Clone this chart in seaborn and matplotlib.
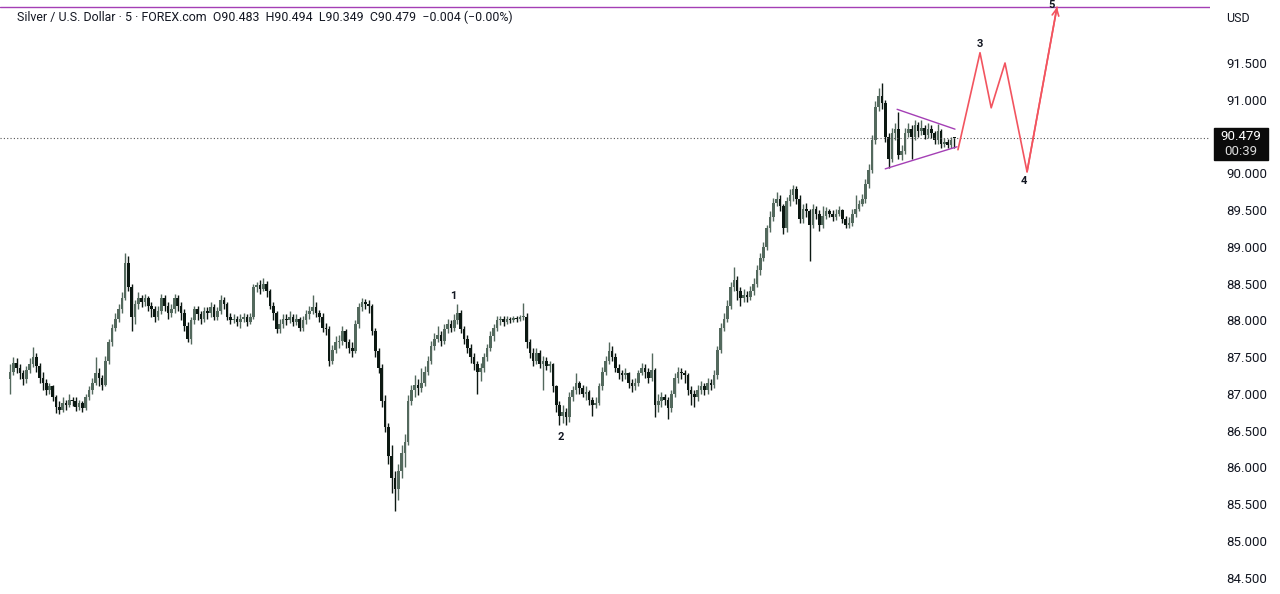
import numpy as np
import pandas as pd
import matplotlib
matplotlib.use('Agg')
import matplotlib.pyplot as plt
import seaborn as sns
from matplotlib.patches import Rectangle

# 5-minute XAG/USD candles (open = previous close)
first_open = 87.20
last_open = 90.483
closes = [
    87.30, 87.42, 87.35, 87.28, 87.20, 87.32, 87.40, 87.50, 87.38, 87.22,
    87.15, 87.05, 87.10, 86.95, 86.82, 86.78, 86.88, 86.85, 86.92, 86.90,
    86.82, 86.88, 86.80, 86.95, 87.05, 87.15, 87.28, 87.22, 87.12, 87.45,
    87.70, 87.90, 88.02, 88.15, 88.30, 88.78, 88.45, 88.05, 88.22, 88.30,
    88.25, 88.30, 88.20, 88.15, 88.05, 88.12, 88.30, 88.20, 88.10, 88.15,
    88.30, 88.20, 88.10, 87.92, 87.75, 88.00, 88.15, 88.08, 88.02, 88.12,
    88.10, 88.18, 88.05, 88.12, 88.28, 88.22, 88.05, 88.00, 88.02, 87.98,
    88.02, 88.05, 87.98, 88.05, 88.45, 88.48, 88.42, 88.50, 88.40, 88.20,
    88.10, 87.88, 87.95, 88.02, 88.00, 88.05, 87.98, 88.02, 87.90, 88.00,
    88.08, 88.12, 88.18, 88.10, 88.05, 87.90, 87.88, 87.45, 87.60, 87.70,
    87.72, 87.85, 87.70, 87.62, 87.58, 87.95, 88.18, 88.25, 88.22, 88.20,
    87.85, 87.58, 87.35, 86.90, 86.55, 86.15, 85.85, 85.70, 85.95, 86.20,
    86.35, 86.90, 87.05, 87.12, 87.08, 87.15, 87.30, 87.45, 87.65, 87.75,
    87.80, 87.72, 87.88, 87.95, 87.90, 88.00, 88.10, 87.88, 87.75, 87.62,
    87.50, 87.40, 87.30, 87.35, 87.50, 87.62, 87.78, 87.90, 88.00, 88.02,
    87.98, 88.02, 88.00, 88.03, 88.02, 88.04, 88.05, 87.70, 87.55, 87.45,
    87.55, 87.40, 87.45, 87.38, 87.40, 87.10, 86.85, 86.70, 86.75, 86.68,
    86.95, 87.05, 87.15, 87.08, 87.00, 87.02, 86.92, 86.85, 86.88, 87.10,
    87.30, 87.45, 87.58, 87.50, 87.35, 87.28, 87.25, 87.28, 87.15, 87.10,
    87.15, 87.28, 87.35, 87.30, 87.22, 87.32, 86.85, 86.90, 86.95, 86.92,
    86.80, 87.00, 87.22, 87.30, 87.28, 87.25, 87.05, 87.00, 86.95, 87.05,
    87.10, 87.05, 87.15, 87.12, 87.25, 87.60, 87.90, 88.02, 88.20, 88.45,
    88.55, 88.40, 88.30, 88.35, 88.32, 88.40, 88.50, 88.68, 88.85, 89.00,
    89.25, 89.40, 89.60, 89.65, 89.55, 89.25, 89.62, 89.70, 89.78, 89.65,
    89.38, 89.52, 89.48, 89.30, 89.52, 89.45, 89.30, 89.42, 89.48, 89.45,
    89.40, 89.45, 89.50, 89.38, 89.30, 89.32, 89.45, 89.52, 89.58, 89.65,
    89.85, 90.05, 90.45, 90.90, 91.05, 90.95, 90.50, 90.20, 90.55, 90.60,
    90.25, 90.30, 90.55, 90.60, 90.50, 90.65, 90.58, 90.62, 90.52, 90.60,
    90.55, 90.45, 90.58, 90.40, 90.42, 90.38, 90.45, 90.479,
]
highs = [
    87.40, 87.50, 87.48, 87.40, 87.32, 87.38, 87.48, 87.64, 87.55, 87.42,
    87.30, 87.20, 87.15, 87.12, 86.98, 86.90, 86.95, 86.92, 87.00, 86.96,
    86.95, 86.92, 86.90, 87.00, 87.10, 87.22, 87.50, 87.35, 87.25, 87.52,
    87.75, 87.95, 88.10, 88.22, 88.38, 88.91, 88.88, 88.50, 88.28, 88.38,
    88.35, 88.36, 88.33, 88.25, 88.20, 88.20, 88.36, 88.35, 88.25, 88.22,
    88.36, 88.34, 88.25, 88.15, 87.98, 88.05, 88.20, 88.20, 88.12, 88.18,
    88.18, 88.25, 88.22, 88.18, 88.34, 88.32, 88.25, 88.10, 88.08, 88.06,
    88.08, 88.10, 88.08, 88.10, 88.50, 88.52, 88.55, 88.57, 88.54, 88.42,
    88.25, 88.12, 88.02, 88.08, 88.08, 88.12, 88.08, 88.08, 88.05, 88.06,
    88.14, 88.20, 88.35, 88.25, 88.14, 88.10, 87.96, 87.92, 87.66, 87.78,
    87.80, 87.92, 87.88, 87.74, 87.70, 88.00, 88.24, 88.30, 88.29, 88.28,
    88.22, 87.90, 87.62, 87.40, 86.98, 86.60, 86.30, 85.95, 86.05, 86.30,
    86.45, 86.98, 87.12, 87.25, 87.20, 87.35, 87.38, 87.52, 87.72, 87.82,
    87.92, 87.85, 87.95, 88.02, 88.00, 88.08, 88.22, 88.14, 87.92, 87.80,
    87.68, 87.55, 87.45, 87.42, 87.56, 87.68, 87.85, 87.95, 88.06, 88.06,
    88.06, 88.06, 88.05, 88.06, 88.06, 88.07, 88.24, 88.10, 87.75, 87.62,
    87.62, 87.60, 87.52, 87.50, 87.45, 87.42, 87.12, 86.90, 86.85, 86.80,
    87.02, 87.10, 87.28, 87.18, 87.12, 87.10, 87.05, 86.95, 86.95, 87.15,
    87.36, 87.52, 87.70, 87.65, 87.55, 87.40, 87.32, 87.35, 87.30, 87.20,
    87.22, 87.32, 87.42, 87.40, 87.35, 87.55, 87.35, 87.00, 87.02, 87.00,
    86.95, 87.05, 87.28, 87.36, 87.35, 87.32, 87.28, 87.10, 87.05, 87.12,
    87.18, 87.15, 87.22, 87.20, 87.32, 87.65, 87.96, 88.10, 88.28, 88.52,
    88.72, 88.60, 88.45, 88.42, 88.40, 88.46, 88.58, 88.75, 88.92, 89.06,
    89.30, 89.48, 89.66, 89.75, 89.70, 89.58, 89.68, 89.78, 89.84, 89.82,
    89.70, 89.58, 89.60, 89.52, 89.58, 89.56, 89.50, 89.55, 89.54, 89.52,
    89.50, 89.52, 89.56, 89.52, 89.42, 89.40, 89.52, 89.70, 89.64, 89.72,
    89.92, 90.12, 90.52, 90.98, 91.16, 91.23, 91.00, 90.55, 90.62, 90.68,
    90.84, 90.38, 90.62, 90.68, 90.66, 90.72, 90.70, 90.72, 90.66, 90.68,
    90.66, 90.58, 90.67, 90.60, 90.48, 90.46, 90.50, 90.494,
]
lows = [
    87.00, 87.25, 87.28, 87.20, 87.12, 87.15, 87.28, 87.36, 87.30, 87.15,
    87.05, 86.98, 87.00, 86.90, 86.74, 86.72, 86.75, 86.78, 86.82, 86.84,
    86.76, 86.78, 86.75, 86.78, 86.92, 87.00, 87.12, 87.10, 87.05, 87.10,
    87.40, 87.65, 87.85, 87.98, 88.10, 88.28, 88.40, 87.85, 87.95, 88.15,
    88.18, 88.20, 88.12, 88.05, 87.98, 88.00, 88.08, 88.12, 88.02, 88.05,
    88.10, 88.12, 88.00, 87.85, 87.70, 87.68, 87.95, 88.00, 87.95, 87.98,
    88.02, 88.05, 88.00, 88.00, 88.08, 88.15, 88.00, 87.95, 87.96, 87.92,
    87.90, 87.98, 87.92, 87.95, 88.02, 88.38, 88.36, 88.40, 88.32, 88.15,
    88.00, 87.82, 87.82, 87.90, 87.94, 87.96, 87.92, 87.94, 87.85, 87.86,
    87.95, 88.02, 88.08, 88.04, 87.98, 87.84, 87.80, 87.38, 87.40, 87.55,
    87.62, 87.66, 87.62, 87.55, 87.50, 87.55, 87.90, 88.12, 88.15, 88.10,
    87.80, 87.50, 87.28, 86.82, 86.48, 86.05, 85.65, 85.40, 85.55, 85.85,
    86.00, 86.30, 86.85, 86.95, 86.98, 87.02, 87.10, 87.25, 87.40, 87.60,
    87.70, 87.65, 87.68, 87.82, 87.84, 87.86, 87.95, 87.82, 87.68, 87.55,
    87.42, 87.32, 87.00, 87.18, 87.30, 87.45, 87.58, 87.72, 87.85, 87.94,
    87.92, 87.95, 87.96, 87.97, 87.98, 87.99, 88.00, 87.62, 87.48, 87.38,
    87.40, 87.35, 87.05, 87.32, 87.30, 87.02, 86.75, 86.58, 86.60, 86.58,
    86.62, 86.90, 87.00, 87.00, 86.95, 86.92, 86.85, 86.70, 86.80, 86.85,
    87.05, 87.25, 87.40, 87.45, 87.30, 87.20, 87.18, 87.20, 87.08, 87.02,
    87.05, 87.10, 87.25, 87.22, 87.15, 87.18, 86.68, 86.75, 86.82, 86.85,
    86.65, 86.75, 86.95, 87.15, 87.20, 87.15, 86.98, 86.85, 86.82, 86.90,
    87.00, 86.98, 87.00, 87.05, 87.08, 87.20, 87.55, 87.85, 87.98, 88.15,
    88.40, 88.28, 88.20, 88.25, 88.25, 88.28, 88.35, 88.45, 88.62, 88.80,
    88.95, 89.20, 89.35, 89.55, 89.48, 89.18, 89.20, 89.55, 89.62, 89.58,
    89.32, 89.32, 89.40, 88.80, 89.25, 89.38, 89.22, 89.25, 89.38, 89.40,
    89.35, 89.36, 89.42, 89.32, 89.26, 89.25, 89.28, 89.40, 89.48, 89.55,
    89.60, 89.80, 90.00, 90.40, 90.85, 90.88, 90.42, 90.07, 90.15, 90.45,
    90.20, 90.18, 90.26, 90.50, 90.20, 90.45, 90.50, 90.52, 90.46, 90.48,
    90.48, 90.40, 90.40, 90.35, 90.36, 90.34, 90.35, 90.349,
]

# drawn annotations (bar index, price)
tri_upper_x = [269.6, 287.2]
tri_upper_y = [90.87, 90.60]
tri_lower_x = [266.0, 287.8]
tri_lower_y = [90.06, 90.36]
proj_x = [288.1, 294.8, 298.2, 302.4, 309.1, 318.2]
proj_y = [90.32, 91.64, 90.89, 91.50, 90.02, 92.26]
wave_labels = ['1', '2', '3', '4', '5']
wave_x = [134.7, 167.5, 294.8, 308.2, 316.7]
wave_y = [88.33, 86.41, 91.76, 89.90, 92.357]
target_level = 92.26
last_price = 90.479
price_ticks = [84.5, 85.0, 85.5, 86.0, 86.5, 87.0, 87.5, 88.0, 88.5, 89.0,
               89.5, 90.0, 91.0, 91.5]

opens = [first_open] + closes[:-1]
opens[-1] = last_open
df = pd.DataFrame({'open': opens, 'high': highs, 'low': lows, 'close': closes})
df['i'] = np.arange(len(df))
up = df['close'] >= df['open']
colors = np.where(up, '#53695d', '#0c1812')

sns.set_theme(style='white')
plt.rcParams['font.family'] = ['Roboto', 'DejaVu Sans']

fig = plt.figure(figsize=(12.8, 5.94), dpi=100)
ax = fig.add_axes([0, 0, 1210 / 1280, 1])

ax.vlines(df['i'], df['low'], df['high'], colors=colors, lw=1.0)
body = (df['close'] - df['open']).abs().clip(lower=0.014)
ax.bar(df['i'], body, bottom=np.minimum(df['open'], df['close']),
       width=0.8, color=colors, linewidth=0)

ax.axhline(last_price, color='#555555', lw=0.8, ls=(0, (1, 2)))
ax.axhline(target_level, color='#a43fb5', lw=1.0)

ax.plot(tri_upper_x, tri_upper_y, color='#a43fb5', lw=1.0)
ax.plot(tri_lower_x, tri_lower_y, color='#a43fb5', lw=1.0)

sns.lineplot(x=proj_x, y=proj_y, sort=False, color='#f2545f', lw=1.2, ax=ax)
ax.annotate('', xy=(proj_x[-1], proj_y[-1]), xytext=(proj_x[-2], proj_y[-2]),
            arrowprops=dict(arrowstyle='->', color='#f2545f', lw=1.2,
                            mutation_scale=12, shrinkA=0, shrinkB=0))

for lab, x, y in zip(wave_labels, wave_x, wave_y):
    va = 'top' if lab == '5' else 'center'
    ax.text(x, y, lab, ha='center', va=va, fontsize=8,
            fontweight='bold', color='#131722', clip_on=False)

ax.set_xlim(-3.04, 364.7)
ax.set_ylim(84.276, 92.357)
ax.yaxis.tick_right()
ax.set_yticks(price_ticks)
ax.set_yticklabels([f'{t:.3f}' for t in price_ticks])
ax.tick_params(axis='y', length=0, pad=12, labelsize=9.5, labelcolor='#131722')
ax.set_xticks([])
for s in ax.spines.values():
    s.set_visible(False)

fig.text(17 / 1280, 1 - 17 / 594,
         'Silver / U.S. Dollar · 5 · FOREX.com  O90.483  H90.494  L90.349  C90.479  \u22120.004 (\u22120.00%)',
         fontsize=8.9, color='#131722', va='center', ha='left')
fig.text(1238 / 1280, 1 - 18 / 594, 'USD', fontsize=9, color='#131722',
         va='center', ha='center')
fig.patches.append(Rectangle((1214 / 1280, 1 - 160 / 594), 54 / 1280, 32 / 594,
                             transform=fig.transFigure, color='#0b0b0b'))
fig.text(1241 / 1280, 1 - 137 / 594, '90.479', fontsize=9.5, color='white',
         va='center', ha='center')
fig.text(1241 / 1280, 1 - 152 / 594, '00:39', fontsize=9.5, color='#dddddd',
         va='center', ha='center')

fig.savefig('out.png', dpi=100)
